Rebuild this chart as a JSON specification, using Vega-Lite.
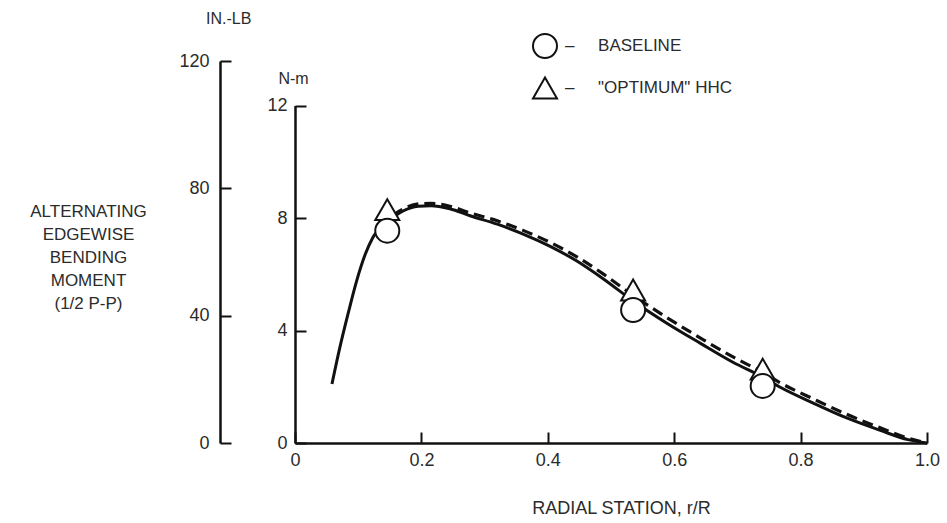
{
  "$schema": "https://vega.github.io/schema/vega-lite/v6.json",
  "width": 632,
  "height": 382,
  "autosize": {"type": "none"},
  "padding": {"left": 295, "top": 61, "right": 20, "bottom": 80},
  "background": "white",
  "config": {
    "view": {"stroke": null},
    "font": "Liberation Sans",
    "axis": {
      "grid": false,
      "domainColor": "#111",
      "domainWidth": 2.5,
      "tickColor": "#111",
      "tickWidth": 2,
      "labelColor": "#2b2b2b",
      "labelFont": "Liberation Sans",
      "labelFontSize": 18,
      "titleFont": "Liberation Sans",
      "titleColor": "#2b2b2b",
      "titleFontWeight": "normal",
      "titleFontSize": 17
    }
  },
  "title": {
    "text": "IN.-LB",
    "anchor": "start",
    "frame": "group",
    "dx": -89,
    "offset": 6,
    "fontSize": 16,
    "fontWeight": "normal",
    "color": "#2b2b2b",
    "font": "Liberation Sans"
  },
  "datasets": {
    "baseline": [
      {"r": 0.0585, "m": 2.1}, {"r": 0.071, "m": 3.4}, {"r": 0.084, "m": 4.6}, {"r": 0.098, "m": 5.8},
      {"r": 0.111, "m": 6.7}, {"r": 0.123, "m": 7.3}, {"r": 0.146, "m": 7.85}, {"r": 0.171, "m": 8.25},
      {"r": 0.195, "m": 8.42}, {"r": 0.215, "m": 8.44}, {"r": 0.245, "m": 8.33}, {"r": 0.277, "m": 8.08},
      {"r": 0.32, "m": 7.78}, {"r": 0.361, "m": 7.43}, {"r": 0.403, "m": 7.0}, {"r": 0.446, "m": 6.47},
      {"r": 0.487, "m": 5.85}, {"r": 0.535, "m": 5.05}, {"r": 0.589, "m": 4.25}, {"r": 0.641, "m": 3.55},
      {"r": 0.693, "m": 2.87}, {"r": 0.741, "m": 2.33}, {"r": 0.767, "m": 1.99}, {"r": 0.82, "m": 1.42},
      {"r": 0.873, "m": 0.89}, {"r": 0.926, "m": 0.45}, {"r": 0.97, "m": 0.12}, {"r": 1.0, "m": 0}
    ],
    "optimum": [
      {"r": 0.155, "m": 8.1}, {"r": 0.171, "m": 8.32}, {"r": 0.195, "m": 8.5}, {"r": 0.215, "m": 8.52},
      {"r": 0.245, "m": 8.42}, {"r": 0.277, "m": 8.18}, {"r": 0.32, "m": 7.9}, {"r": 0.361, "m": 7.56},
      {"r": 0.403, "m": 7.14}, {"r": 0.446, "m": 6.62}, {"r": 0.487, "m": 6.02}, {"r": 0.535, "m": 5.25},
      {"r": 0.589, "m": 4.45}, {"r": 0.641, "m": 3.74}, {"r": 0.693, "m": 3.06}, {"r": 0.741, "m": 2.5},
      {"r": 0.767, "m": 2.15}, {"r": 0.82, "m": 1.57}, {"r": 0.873, "m": 1.02}, {"r": 0.926, "m": 0.54},
      {"r": 0.97, "m": 0.17}, {"r": 1.0, "m": 0}
    ],
    "markers": [
      {"series": "\"OPTIMUM\" HHC", "r": 0.146, "m": 8.3},
      {"series": "\"OPTIMUM\" HHC", "r": 0.535, "m": 5.44},
      {"series": "\"OPTIMUM\" HHC", "r": 0.74, "m": 2.63},
      {"series": "BASELINE", "r": 0.146, "m": 7.55},
      {"series": "BASELINE", "r": 0.535, "m": 4.73},
      {"series": "BASELINE", "r": 0.74, "m": 2.03}
    ],
    "inlb": [{"inlb": 0}, {"inlb": 120}]
  },
  "layer": [
    {
      "layer": [
        {
          "data": {"name": "baseline"},
          "mark": {"type": "line", "color": "#111", "strokeWidth": 3, "interpolate": "monotone"},
          "encoding": {
            "x": {"field": "r", "type": "quantitative", "scale": {"domain": [0, 1]},
              "axis": {"values": [0, 0.2, 0.4, 0.6, 0.8, 1], "labelExpr": "datum.value == 0 ? '0' : format(datum.value, '.1f')",
                "tickSize": -11, "labelPadding": 19, "labelFlush": false, "title": "RADIAL STATION, r/R",
                "titleX": 326, "titleY": 65, "titleAlign": "center", "titleBaseline": "middle", "titleFontSize": 18}},
            "y": {"field": "m", "type": "quantitative", "scale": {"domain": [0, 12], "range": [382, 44.5]},
              "axis": {"orient": "left", "values": [0, 4, 8, 12], "tickSize": -11, "labelPadding": 19,
                "title": "N-m", "titleAngle": 0, "titleX": -2, "titleY": 17, "titleAlign": "center",
                "titleBaseline": "middle", "titleFontSize": 16}}
          }
        },
        {
          "data": {"name": "optimum"},
          "mark": {"type": "line", "color": "#111", "strokeWidth": 3.2, "strokeDash": [11, 6], "interpolate": "monotone"},
          "encoding": {
            "x": {"field": "r", "type": "quantitative"},
            "y": {"field": "m", "type": "quantitative"}
          }
        },
        {
          "data": {"name": "markers"},
          "mark": {"type": "point", "filled": false, "color": "#111", "fill": "white", "strokeWidth": 2, "size": 576, "opacity": 1},
          "encoding": {
            "x": {"field": "r", "type": "quantitative"},
            "y": {"field": "m", "type": "quantitative"},
            "shape": {"field": "series", "type": "nominal",
              "scale": {"domain": ["BASELINE", "\"OPTIMUM\" HHC"], "range": ["circle", "triangle-up"]},
              "legend": {"orient": "none", "legendX": 237, "legendY": -28, "title": null,
                "symbolSize": 576, "symbolStrokeWidth": 2,
                "labelFontSize": 17, "labelColor": "#2b2b2b", "labelFont": "Liberation Sans", "labelOffset": 7, "rowPadding": 11,
                "labelLimit": 400,
                "labelExpr": "'–\u00a0\u00a0\u00a0\u00a0\u00a0' + datum.label"}}
          }
        }
      ]
    },
    {
      "data": {"name": "inlb"},
      "mark": {"type": "point", "size": 0, "strokeWidth": 0},
      "encoding": {
        "y": {"field": "inlb", "type": "quantitative", "scale": {"domain": [0, 120]},
          "axis": {"orient": "left", "offset": 75, "values": [0, 40, 80, 120], "tickSize": -11, "labelPadding": 22,
            "title": ["ALTERNATING", "EDGEWISE", "BENDING", "MOMENT", "(1/2 P-P)"],
            "titleAngle": 0, "titleX": -132, "titleY": 150, "titleAlign": "center", "titleBaseline": "middle",
            "titleLineHeight": 23}}
      }
    }
  ],
  "resolve": {"scale": {"y": "independent"}, "axis": {"y": "independent"}}
}
